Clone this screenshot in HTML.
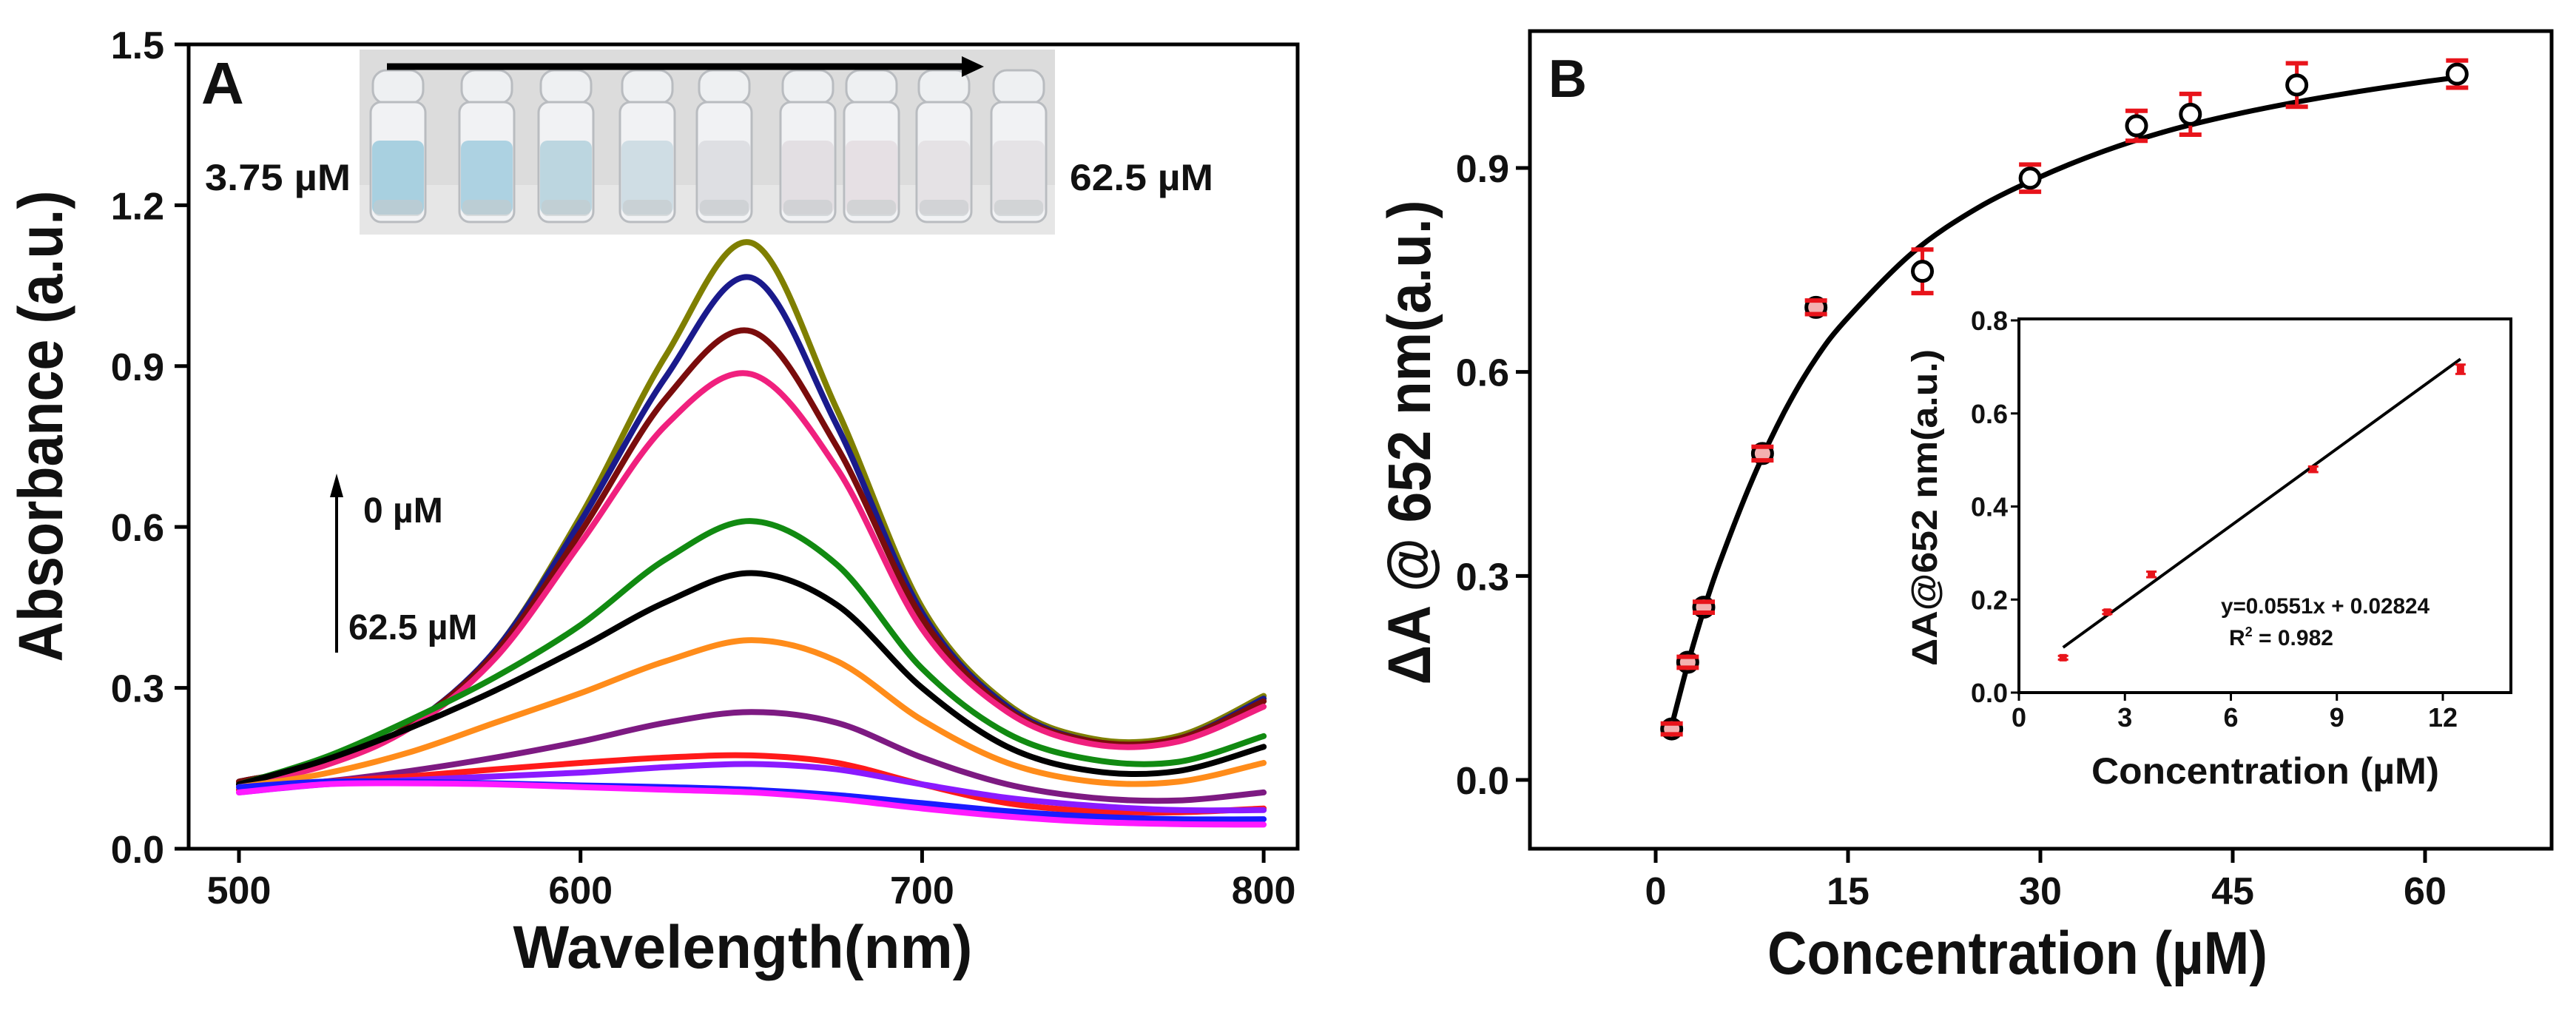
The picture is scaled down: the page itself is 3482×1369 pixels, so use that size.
<!DOCTYPE html>
<html><head><meta charset="utf-8"><style>
html,body{margin:0;padding:0;background:#fff;}
svg{display:block;}
text{font-family:"Liberation Sans",Arial,sans-serif;font-weight:bold;fill:#111;}
</style></head>
<body>
<svg id="fig" width="3482" height="1369" viewBox="0 0 3482 1369" xmlns="http://www.w3.org/2000/svg">
<rect width="3482" height="1369" fill="#fff"/>
<g id="panelA"></g>
<g id="panelB"></g>
</svg>
<script>
// ---------- Panel A data ----------
const wavelengths = [500,525,550,575,600,625,650,675,700,725,750,775,800];
const seriesColors = ["#7f7f00","#1a1a8c","#7a0c0c","#f0207e","#118a11","#000000","#ff8c1a","#7d1a82","#ff1a1a","#8a1aff","#1a1aff","#ff1aff"];
const s1 = [0.125,0.16,0.23,0.37,0.62,0.92,1.13,0.82,0.45,0.27,0.205,0.21,0.285];
const s2 = [0.125,0.16,0.23,0.37,0.61,0.88,1.065,0.79,0.44,0.265,0.2,0.205,0.28];
const s3 = [0.125,0.16,0.23,0.365,0.59,0.84,0.965,0.75,0.43,0.26,0.2,0.205,0.275];
const s4 = [0.12,0.155,0.225,0.355,0.57,0.79,0.885,0.71,0.41,0.255,0.195,0.2,0.265];
const s5 = [0.12,0.17,0.24,0.32,0.417,0.54,0.611,0.53,0.336,0.215,0.166,0.162,0.21];
const s6 = [0.12,0.165,0.225,0.295,0.375,0.46,0.514,0.455,0.3,0.19,0.145,0.145,0.19];
const s7 = [0.115,0.14,0.18,0.235,0.29,0.35,0.389,0.35,0.24,0.16,0.125,0.125,0.16];
const s8 = [0.11,0.125,0.145,0.17,0.2,0.235,0.255,0.235,0.17,0.12,0.095,0.09,0.105];
const s9 = [0.11,0.125,0.135,0.148,0.16,0.17,0.174,0.16,0.12,0.085,0.07,0.068,0.075];
const s10 = [0.105,0.12,0.128,0.135,0.142,0.152,0.158,0.148,0.12,0.095,0.08,0.072,0.072];
const s11 = [0.115,0.125,0.125,0.122,0.118,0.115,0.11,0.1,0.085,0.07,0.06,0.055,0.055];
const s12 = [0.105,0.12,0.122,0.12,0.115,0.11,0.105,0.093,0.075,0.06,0.05,0.046,0.045];
const spectra = [s1,s2,s3,s4,s5,s6,s7,s8,s9,s10,s11,s12];
const aXTicks = [500,600,700,800];
const aYTicks = [0.0,0.3,0.6,0.9,1.2,1.5];
const aYTickLabels = ["0.0","0.3","0.6","0.9","1.2","1.5"];

// ---------- Panel B data ----------
const concentrations = [1.25,2.5,3.75,8.33,12.5,20.8,29.2,37.5,41.7,50,62.5];
const deltaA = [0.075,0.173,0.254,0.48,0.695,0.748,0.885,0.962,0.979,1.022,1.038];
const deltaAErr = [0.008,0.008,0.008,0.01,0.01,0.032,0.02,0.022,0.03,0.032,0.02];
const fitConc = [1.25,2.5,3.75,5,7.5,10,12.5,15,20,25,30,35,40,45,50,55,60,62.5];
const fitDeltaA = [0.08,0.17,0.25,0.32,0.44,0.54,0.62,0.68,0.775,0.84,0.887,0.925,0.955,0.978,0.997,1.013,1.027,1.033];
const bXTicks = [0,15,30,45,60];
const bYTicks = [0.0,0.3,0.6,0.9];
const bYTickLabels = ["0.0","0.3","0.6","0.9"];

// ---------- Inset data ----------
const insetConc = [1.25,2.5,3.75,8.33,12.5];
const insetDeltaA = [0.075,0.173,0.254,0.48,0.695];
const insetErr = [0.004,0.004,0.006,0.006,0.01];
const fitSlope = [0.0551];
const fitIntercept = [0.02824];
const fitRange = [1.25,12.5];
const iXTicks = [0,3,6,9,12];
const iYTicks = [0.0,0.2,0.4,0.6,0.8];
const iYTickLabels = ["0.0","0.2","0.4","0.6","0.8"];

// ---------- scales ----------
const xA = w => 323 + (w-500)*4.617;
const yA = v => 1147 - v*724.7;
const xB = c => 2238 + c*17.333;
const yB = v => 1054 - v*918.9;
const xI = c => 2729 + c*47.75;
const yI = v => 936 - v*628.75;

const NS = "http://www.w3.org/2000/svg";
function mk(tag, attrs, parent, txt){
  const e = document.createElementNS(NS, tag);
  for (const k in attrs) e.setAttribute(k, attrs[k]);
  if (txt !== undefined) e.textContent = txt;
  parent.appendChild(e);
  return e;
}
function smooth(pts){
  let d = "M"+pts[0][0].toFixed(1)+","+pts[0][1].toFixed(1);
  for (let i=0;i<pts.length-1;i++){
    const p0=pts[Math.max(0,i-1)], p1=pts[i], p2=pts[i+1], p3=pts[Math.min(pts.length-1,i+2)];
    const c1=[p1[0]+(p2[0]-p0[0])/6, p1[1]+(p2[1]-p0[1])/6];
    const c2=[p2[0]-(p3[0]-p1[0])/6, p2[1]-(p3[1]-p1[1])/6];
    d += " C"+c1[0].toFixed(1)+","+c1[1].toFixed(1)+" "+c2[0].toFixed(1)+","+c2[1].toFixed(1)+" "+p2[0].toFixed(1)+","+p2[1].toFixed(1);
  }
  return d;
}

// ================= Panel A =================
const A = document.getElementById("panelA");
const photo = mk("g",{},A);


mk("rect",{x:486,y:67,width:940,height:250,fill:"#dcdcdc"},photo);
mk("rect",{x:486,y:250,width:940,height:67,fill:"#e6e6e6"},photo);
const vialX = [538,658,765,875,979,1092,1178,1276,1377];
const vialColor = ["#a8d0e0","#add2e2","#bcd6e0","#cfdde4","#dedfe3","#e3dfe3","#e6e0e4","#e5e2e5","#e5e3e6"];
vialX.forEach((vx,i)=>{
  const v = mk("g",{},photo);
  
  
  mk("rect",{x:vx-34,y:95,width:68,height:45,rx:18,fill:"#eef0f2",stroke:"#b9bcc0","stroke-width":3},v);
  mk("rect",{x:vx-37,y:138,width:74,height:162,rx:14,fill:"#f1f2f4",stroke:"#b9bcc0","stroke-width":3},v);
  mk("rect",{x:vx-35,y:190,width:70,height:100,rx:10,fill:vialColor[i]},v);
  mk("rect",{x:vx-33,y:270,width:66,height:22,rx:8,fill:"#c5c9cc",opacity:0.6},v);
});
const arr = mk("g",{},photo);


mk("line",{x1:523,y1:90,x2:1305,y2:90,stroke:"#000","stroke-width":9},arr);
mk("polygon",{points:"1300,76 1330,90 1300,104",fill:"#000"},arr);

spectra.forEach((s,i)=>{
  const pts = wavelengths.map((w,j)=>[xA(w), yA(s[j])]);
  const p = mk("path",{d:smooth(pts),fill:"none",stroke:seriesColors[i],"stroke-width":8,"stroke-linejoin":"round","stroke-linecap":"round"},A);
  
  
});
const fA = mk("rect",{x:255,y:60,width:1499,height:1087,fill:"none",stroke:"#000","stroke-width":5},A);


aXTicks.forEach(t=>{
  mk("line",{x1:xA(t),y1:1147,x2:xA(t),y2:1166,stroke:"#000","stroke-width":5},A);
  const tl = mk("text",{x:xA(t),y:1221,"font-size":52,"text-anchor":"middle"},A,String(t));
  
  
});
aYTicks.forEach((t,i)=>{
  mk("line",{x1:236,y1:yA(t),x2:255,y2:yA(t),stroke:"#000","stroke-width":5},A);
  const tl = mk("text",{x:222,y:yA(t)+19,"font-size":52,"text-anchor":"end"},A,aYTickLabels[i]);
  
  
});
</script>
<script>
(function(){
const A = document.getElementById("panelA");
function t(x,y,size,str,name,anchor,extra){
  const e = document.createElementNS("http://www.w3.org/2000/svg","text");
  e.setAttribute("x",x); e.setAttribute("y",y); e.setAttribute("font-size",size);
  e.setAttribute("text-anchor",anchor||"start");
  if (extra) for (const k in extra) e.setAttribute(k, extra[k]);
  e.textContent = str;
  
  
  return e;
}
A.appendChild(t(272,140,80,"A","panel-label-a"));
A.appendChild(t(277,257,50,"3.75 µM","low-conc-label","start",{textLength:197,lengthAdjust:"spacingAndGlyphs"}));
A.appendChild(t(1446,257,50,"62.5 µM","high-conc-label","start",{textLength:194,lengthAdjust:"spacingAndGlyphs"}));
A.appendChild(t(491,706,48,"0 µM","arrow-label-0"));
A.appendChild(t(471,864,48,"62.5 µM","arrow-label-62"));
A.appendChild(t(1004,1308,82,"Wavelength(nm)","x-axis-title-a","middle",{textLength:621,lengthAdjust:"spacingAndGlyphs"}));
A.appendChild(t(0,0,84,"Absorbance (a.u.)","y-axis-title-a","middle",{transform:"translate(84,576) rotate(-90)",textLength:637,lengthAdjust:"spacingAndGlyphs"}));
const ns="http://www.w3.org/2000/svg";
const l = document.createElementNS(ns,"line");
l.setAttribute("x1",455);l.setAttribute("y1",882);l.setAttribute("x2",455);l.setAttribute("y2",665);
l.setAttribute("stroke","#000");l.setAttribute("stroke-width",4);


A.appendChild(l);
const h = document.createElementNS(ns,"polygon");
h.setAttribute("points","446,672 455,640 464,672");


A.appendChild(h);
})();
</script>
<script>
// ================= Panel B =================
const B = document.getElementById("panelB");
const fB = mk("rect",{x:2068,y:42,width:1381,height:1105,fill:"none",stroke:"#000","stroke-width":5},B);


bXTicks.forEach(t=>{
  mk("line",{x1:xB(t),y1:1147,x2:xB(t),y2:1166,stroke:"#000","stroke-width":5},B);
  const tl = mk("text",{x:xB(t),y:1222,"font-size":52,"text-anchor":"middle"},B,String(t));
  
  
});
bYTicks.forEach((t,i)=>{
  mk("line",{x1:2049,y1:yB(t),x2:2068,y2:yB(t),stroke:"#000","stroke-width":5},B);
  const tl = mk("text",{x:2040,y:yB(t)+19,"font-size":52,"text-anchor":"end"},B,bYTickLabels[i]);
  
  
});
const fit = mk("path",{d:smooth(fitConc.map((c,i)=>[xB(c),yB(fitDeltaA[i])])),fill:"none",stroke:"#000","stroke-width":7},B);


concentrations.forEach((c,i)=>{
  const g = mk("g",{},B);
  
  
  const x=xB(c), y1=yB(deltaA[i]+deltaAErr[i]), y2=yB(deltaA[i]-deltaAErr[i]);
  mk("line",{x1:x,y1:y1,x2:x,y2:y2,stroke:"#e8141b","stroke-width":5},g);
  mk("circle",{cx:x,cy:yB(deltaA[i]),r:13,fill:deltaAErr[i]<0.015?"#f3b0b0":"#fff",stroke:"#000","stroke-width":5},g);
  mk("line",{x1:x-15,y1:y1,x2:x+15,y2:y1,stroke:"#e8141b","stroke-width":6},g);
  mk("line",{x1:x-15,y1:y2,x2:x+15,y2:y2,stroke:"#e8141b","stroke-width":6},g);
});
const tB = mk("text",{x:2093,y:131,"font-size":72},B,"B");


const xtB = mk("text",{x:2727,y:1316,"font-size":82,"text-anchor":"middle",textLength:676,lengthAdjust:"spacingAndGlyphs"},B,"Concentration (µM)");


const ytB = mk("text",{x:0,y:0,"font-size":82,"text-anchor":"middle",transform:"translate(1933,598) rotate(-90)",textLength:655,lengthAdjust:"spacingAndGlyphs"},B,"ΔA @ 652 nm(a.u.)");



const I = mk("g",{},B);


mk("rect",{x:2729,y:431,width:665,height:505,fill:"#fff",stroke:"#000","stroke-width":4},I);
iXTicks.forEach(t=>{
  mk("line",{x1:xI(t),y1:936,x2:xI(t),y2:947,stroke:"#000","stroke-width":3},I);
  const tl = mk("text",{x:xI(t),y:982,"font-size":36,"text-anchor":"middle"},I,String(t));
  
  
});
iYTicks.forEach((t,i)=>{
  mk("line",{x1:2718,y1:yI(t),x2:2729,y2:yI(t),stroke:"#000","stroke-width":3},I);
  const tl = mk("text",{x:2714,y:yI(t)+13,"font-size":36,"text-anchor":"end"},I,iYTickLabels[i]);
  
  
});
const fl = mk("line",{x1:xI(fitRange[0]),y1:yI(fitSlope[0]*fitRange[0]+fitIntercept[0]),x2:xI(fitRange[1]),y2:yI(fitSlope[0]*fitRange[1]+fitIntercept[0]),stroke:"#000","stroke-width":4},I);


insetConc.forEach((c,i)=>{
  const x=xI(c), y=yI(insetDeltaA[i]);
  const m = mk("rect",{x:x-5,y:y-5,width:10,height:10,fill:"#e8141b"},I);
  
  
  mk("line",{x1:x-7,y1:yI(insetDeltaA[i]+insetErr[i]),x2:x+7,y2:yI(insetDeltaA[i]+insetErr[i]),stroke:"#e8141b","stroke-width":3},I);
  mk("line",{x1:x-7,y1:yI(insetDeltaA[i]-insetErr[i]),x2:x+7,y2:yI(insetDeltaA[i]-insetErr[i]),stroke:"#e8141b","stroke-width":3},I);
});
const eq = mk("text",{x:3002,y:829,"font-size":30,textLength:282,lengthAdjust:"spacingAndGlyphs"},I,"y=0.0551x + 0.02824");


const r2 = mk("text",{x:3013,y:872,"font-size":30},I,"");


r2.textContent = "R";
const sup = mk("tspan",{"font-size":18,dy:-12},r2,"2");
const rest = mk("tspan",{dy:12},r2," = 0.982");
const ixt = mk("text",{x:3062,y:1059,"font-size":50,"text-anchor":"middle",textLength:470,lengthAdjust:"spacingAndGlyphs"},I,"Concentration (µM)");


const iyt = mk("text",{x:0,y:0,"font-size":48,"text-anchor":"middle",transform:"translate(2618,686) rotate(-90)",textLength:428,lengthAdjust:"spacingAndGlyphs"},I,"ΔA@652 nm(a.u.)");


</script>
</body></html>
